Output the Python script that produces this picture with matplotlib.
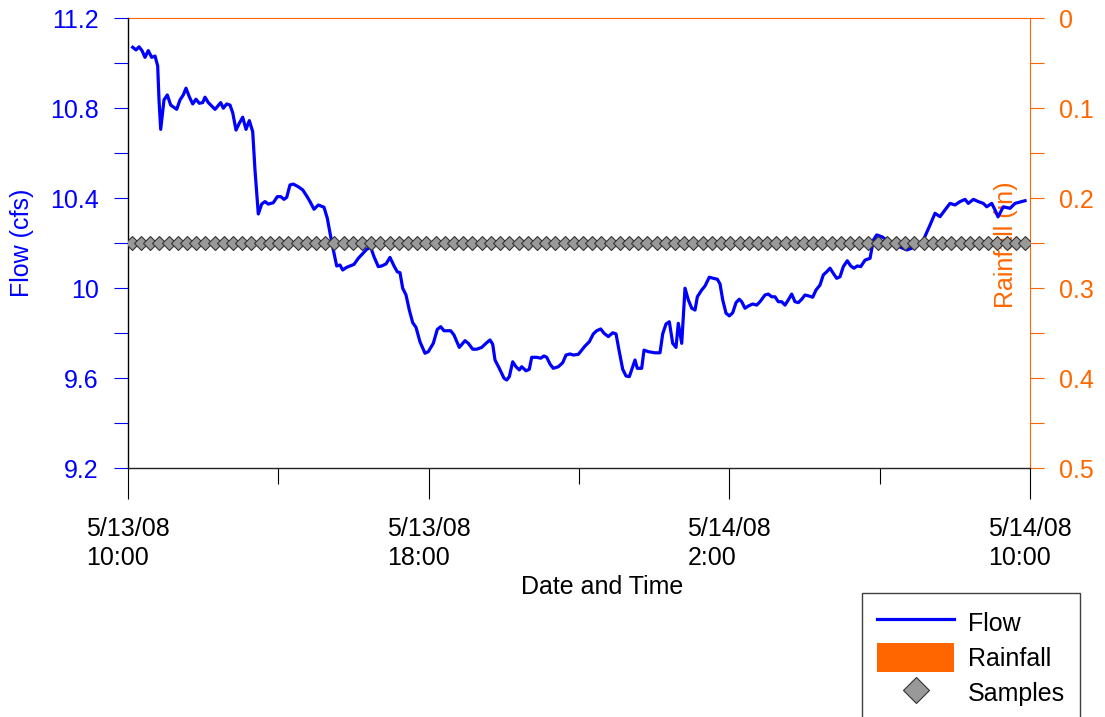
import datetime as dt
import numpy as np
import pandas as pd
import matplotlib
matplotlib.use("Agg")
import matplotlib.pyplot as plt
import matplotlib.dates as mdates
from matplotlib.lines import Line2D
from matplotlib.patches import Patch
from matplotlib.ticker import MultipleLocator, FixedLocator

plt.rcParams['font.family'] = ['Liberation Sans', 'DejaVu Sans']

# ---------------- data ----------------
start_time = dt.datetime(2008, 5, 13, 10, 0)
end_time = dt.datetime(2008, 5, 14, 10, 0)

# flow record: hours after 5/13/08 10:00 and flow (cfs)
flow_hours = [
    0.125, 0.213, 0.293, 0.373, 0.452, 0.540, 0.631, 0.719, 0.790, 0.825, 0.870, 0.958,
    1.046, 1.136, 1.296, 1.384, 1.471, 1.543, 1.631, 1.722, 1.809, 1.897, 1.988, 2.049,
    2.137, 2.315, 2.467, 2.536, 2.626, 2.714, 2.786, 2.874, 2.961, 3.052, 3.140, 3.228,
    3.318, 3.379, 3.467, 3.557, 3.645, 3.733, 3.866, 3.973, 4.063, 4.151, 4.223, 4.310,
    4.398, 4.531, 4.648, 4.755, 4.843, 4.949, 5.063, 5.215, 5.303, 5.393, 5.463, 5.553,
    5.641, 5.713, 5.819, 6.013, 6.128, 6.351, 6.458, 6.546, 6.660, 6.750, 6.865, 6.971,
    7.078, 7.165, 7.237, 7.309, 7.397, 7.485, 7.575, 7.663, 7.769, 7.902, 7.990, 8.123,
    8.230, 8.320, 8.408, 8.586, 8.674, 8.815, 8.967, 9.055, 9.172, 9.278, 9.411, 9.544,
    9.632, 9.704, 9.765, 9.879, 10.005, 10.076, 10.146, 10.236, 10.324, 10.412, 10.476,
    10.590, 10.678, 10.742, 10.875, 10.981, 11.069, 11.141, 11.229, 11.316, 11.449,
    11.566, 11.654, 11.761, 11.849, 11.981, 12.072, 12.160, 12.274, 12.381, 12.471,
    12.577, 12.665, 12.780, 12.897, 12.985, 13.072, 13.163, 13.251, 13.339, 13.429,
    13.490, 13.551, 13.668, 13.730, 13.844, 14.022, 14.155, 14.227, 14.315, 14.403,
    14.493, 14.581, 14.642, 14.733, 14.821, 14.909, 15.000, 15.087, 15.149, 15.265,
    15.353, 15.467, 15.574, 15.680, 15.752, 15.824, 15.912, 16.000, 16.090, 16.178,
    16.265, 16.329, 16.417, 16.505, 16.622, 16.728, 16.816, 16.949, 17.037, 17.127,
    17.215, 17.303, 17.393, 17.481, 17.569, 17.659, 17.747, 17.835, 17.926, 18.013,
    18.128, 18.218, 18.306, 18.412, 18.500, 18.590, 18.679, 18.767, 18.857, 18.945,
    19.033, 19.139, 19.230, 19.317, 19.405, 19.496, 19.611, 19.744, 19.832, 19.922,
    20.055, 20.276, 20.542, 20.720, 20.941, 21.162, 21.340, 21.473, 21.606, 21.739,
    21.872, 22.005, 22.138, 22.271, 22.359, 22.492, 22.625, 22.758, 22.849, 22.982,
    23.069, 23.149, 23.289, 23.468, 23.601, 23.779, 23.867,
]
flow_cfs = [
    11.070, 11.058, 11.072, 11.055, 11.025, 11.055, 11.025, 11.031, 10.987, 10.836, 10.705, 10.836,
    10.858, 10.813, 10.794, 10.836, 10.858, 10.888, 10.850, 10.818, 10.839, 10.821, 10.824, 10.848,
    10.824, 10.794, 10.824, 10.799, 10.818, 10.813, 10.779, 10.702, 10.732, 10.759, 10.705, 10.744,
    10.695, 10.524, 10.329, 10.373, 10.384, 10.373, 10.379, 10.406, 10.406, 10.394, 10.403, 10.458,
    10.462, 10.450, 10.436, 10.409, 10.384, 10.350, 10.369, 10.359, 10.310, 10.228, 10.169, 10.098,
    10.102, 10.080, 10.092, 10.105, 10.132, 10.172, 10.181, 10.139, 10.095, 10.098, 10.107, 10.136,
    10.098, 10.072, 10.068, 9.999, 9.969, 9.902, 9.846, 9.825, 9.761, 9.710, 9.717, 9.754,
    9.816, 9.828, 9.810, 9.810, 9.791, 9.736, 9.766, 9.754, 9.728, 9.728, 9.736, 9.757,
    9.769, 9.750, 9.680, 9.643, 9.599, 9.591, 9.606, 9.672, 9.650, 9.636, 9.650,
    9.632, 9.639, 9.692, 9.692, 9.688, 9.698, 9.692, 9.662, 9.643, 9.650,
    9.668, 9.702, 9.707, 9.702, 9.705, 9.724, 9.742, 9.761, 9.796, 9.810,
    9.818, 9.799, 9.784, 9.801, 9.796, 9.717, 9.639, 9.609, 9.606, 9.650,
    9.680, 9.643, 9.643, 9.724, 9.717, 9.712, 9.712, 9.796, 9.840, 9.850,
    9.754, 9.736, 9.843, 9.754, 9.999, 9.947, 9.910, 9.902, 9.961, 9.991,
    10.009, 10.048, 10.043, 10.039, 10.018, 9.947, 9.888, 9.876, 9.890, 9.935,
    9.950, 9.939, 9.910, 9.920, 9.929, 9.924, 9.939, 9.969, 9.973, 9.961,
    9.961, 9.939, 9.939, 9.924, 9.947, 9.973, 9.939, 9.935, 9.950, 9.969,
    9.964, 9.959, 9.991, 10.013, 10.058, 10.072, 10.088, 10.065, 10.043, 10.050,
    10.095, 10.121, 10.098, 10.088, 10.098, 10.095, 10.124, 10.132, 10.213, 10.236,
    10.228, 10.204, 10.182, 10.169, 10.182, 10.213, 10.280, 10.332, 10.317, 10.347,
    10.376, 10.369, 10.384, 10.394, 10.376, 10.394, 10.384, 10.376, 10.361, 10.376,
    10.347, 10.316, 10.361, 10.354, 10.376, 10.384, 10.388,
]

# rainfall (in): none recorded during the event
rain_hours = [0.0, 6.0, 12.0, 18.0, 24.0]
rain_in = [0.0, 0.0, 0.0, 0.0, 0.0]

# samples: plotted at 10.2 cfs level
sample_first = dt.datetime(2008, 5, 13, 10, 6)
sample_last = dt.datetime(2008, 5, 14, 9, 52)
sample_count = 98
sample_level = 10.2

# axis ticks / labels
xtick_labels = ["5/13/08\n10:00", "5/13/08\n18:00", "5/14/08\n2:00", "5/14/08\n10:00"]
xtick_hours = [0, 8, 16, 24]
flow_ticks = [9.2, 9.6, 10.0, 10.4, 10.8, 11.2]
flow_tick_labels = ["9.2", "9.6", "10", "10.4", "10.8", "11.2"]
rain_ticks = [0, 0.1, 0.2, 0.3, 0.4, 0.5]
rain_tick_labels = ["0", "0.1", "0.2", "0.3", "0.4", "0.5"]

# ---------------- plotting ----------------
BLUE = '#0000FF'
ORANGE = '#FF6600'
FS = 18

flow_t = [start_time + dt.timedelta(hours=h) for h in flow_hours]
rain_t = [start_time + dt.timedelta(hours=h) for h in rain_hours]
sample_t = pd.date_range(sample_first, sample_last, periods=sample_count).to_pydatetime()
xtick_t = [start_time + dt.timedelta(hours=h) for h in xtick_hours]
minor_t = [start_time + dt.timedelta(hours=h) for h in range(0, 25, 4)]

fig = plt.figure(figsize=(11.05, 7.17), dpi=100)
ax = fig.add_axes([128 / 1105, 1 - 468 / 717, 902 / 1105, 450 / 717])
ax2 = ax.twinx()
ax.set_zorder(ax2.get_zorder() + 1)
ax.patch.set_visible(False)

# rainfall bars (hanging from top, inverted axis)
ax2.bar(rain_t, rain_in, width=1 / 24, color=ORANGE, align='center')
ax2.set_ylim(0.5, 0)

# flow line
ax.plot(flow_t, flow_cfs, color=BLUE, lw=2.3, zorder=2, solid_joinstyle='round')
# samples
ax.plot(sample_t, [sample_level] * len(sample_t), ls='none', marker='D', ms=7,
        mfc='#999999', mec='#333333', mew=0.8, zorder=3)

ax.set_xlim(start_time, end_time)
ax.set_ylim(9.2, 11.2)

# x axis ticks
ax.xaxis.set_major_locator(FixedLocator(mdates.date2num(xtick_t)))
ax.set_xticklabels(xtick_labels, fontsize=FS, linespacing=1.23, multialignment='left')
ax.xaxis.set_minor_locator(FixedLocator(mdates.date2num(minor_t)))
ax.tick_params(axis='x', which='major', direction='out', length=22, width=0.8,
               color='black', pad=13.5)
ax.tick_params(axis='x', which='minor', direction='out', length=11.5, width=0.8,
               color='black')

# left y axis
ax.set_yticks(flow_ticks)
ax.set_yticklabels(flow_tick_labels)
ax.yaxis.set_minor_locator(MultipleLocator(0.2))
ax.tick_params(axis='y', which='both', direction='out', length=10, width=0.8,
               color=BLUE, labelcolor=BLUE, labelsize=FS, pad=11)

# right y axis
ax2.set_yticks(rain_ticks)
ax2.set_yticklabels(rain_tick_labels)
ax2.yaxis.set_minor_locator(MultipleLocator(0.05))
ax2.tick_params(axis='y', which='both', direction='out', length=10, width=0.8,
                color=ORANGE, labelcolor=ORANGE, labelsize=FS, pad=11)
ax2.tick_params(axis='x', which='both', bottom=False, labelbottom=False)

# spines
for s in ['top', 'right']:
    ax.spines[s].set_visible(False)
ax.spines['left'].set_color('black')
ax.spines['bottom'].set_color('#222222')
ax.spines['left'].set_linewidth(1.0)
ax.spines['bottom'].set_linewidth(1.0)
ax2.spines['left'].set_visible(False)
ax2.spines['bottom'].set_visible(False)
ax2.spines['right'].set_color(ORANGE)
ax2.spines['top'].set_color(ORANGE)
ax2.spines['right'].set_linewidth(0.8)
ax2.spines['top'].set_linewidth(0.8)

# labels
ax.set_xlabel('Date and Time', fontsize=FS)
ax.xaxis.set_label_coords((602 - 128) / 902, -0.238)
ax.set_ylabel('Flow (cfs)', fontsize=FS, color=BLUE, va='center')
ax.yaxis.set_label_coords((22.5 - 128) / 902, 0.5)
ax2.set_ylabel('Rainfall (in)', fontsize=FS, color=ORANGE, va='center', rotation=90)
ax2.yaxis.set_label_coords((1006 - 128) / 902, 0.495)
ax2.yaxis.label.set_zorder(10)

# legend
handles = [
    Line2D([], [], color=BLUE, lw=2.3),
    Patch(facecolor=ORANGE, edgecolor='none'),
    Line2D([], [], ls='none', marker='D', ms=13, mfc='#999999', mec='#333333', mew=0.8),
]
leg = fig.legend(handles, ['Flow', 'Rainfall', 'Samples'],
                 loc='upper left', bbox_to_anchor=(862 / 1105, 1 - 593 / 717),
                 bbox_transform=fig.transFigure, borderaxespad=0, fontsize=FS,
                 fancybox=False, frameon=True, edgecolor='#404040', framealpha=1,
                 handlelength=3.08, handleheight=1.38, handletextpad=0.56,
                 labelspacing=0.27, borderpad=0.6)
leg.get_frame().set_linewidth(1.0)

fig.savefig('out.png', dpi=100)
